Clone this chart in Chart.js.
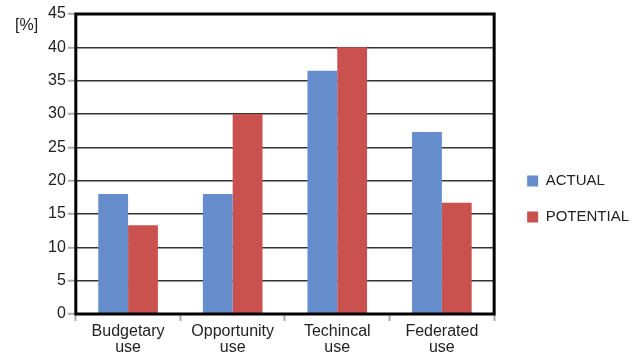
<!DOCTYPE html>
<html>
<head>
<meta charset="utf-8">
<script src="https://cdn.jsdelivr.net/npm/chart.js@4.4.0/dist/chart.umd.min.js"></script>
<style>
  html, body { margin: 0; padding: 0; background: #fff; }
  #wrap { width: 638px; height: 356px; position: relative; }
</style>
</head>
<body>
<div id="wrap"><canvas id="chart"></canvas></div>
<script>
// categories and values
const categories = [['Budgetary', 'use'], ['Opportunity', 'use'], ['Techincal', 'use'], ['Federated', 'use']];
const actual = [18, 18, 36.5, 27.3];
const potential = [13.3, 30, 40, 16.7];
const yTicks = [0, 5, 10, 15, 20, 25, 30, 35, 40, 45];

const FONT = '"Liberation Sans", Arial, sans-serif';

// thick black frame round the plot + the [%] unit label
const framePlugin = {
    id: 'frame',
    afterDraw(chart) {
        const { ctx, chartArea: a } = chart;
        ctx.save();
        ctx.strokeStyle = '#000';
        ctx.lineWidth = 3;
        ctx.strokeRect(a.left, a.top, a.right - a.left, a.bottom - a.top);
        ctx.fillStyle = '#222';
        ctx.font = '16px ' + FONT;
        ctx.textBaseline = 'middle';
        ctx.fillText('[%]', 15, 26);
        ctx.restore();
    }
};

// widen the legend box a bit and push its items to the right
const legendShift = {
    id: 'legendShift',
    beforeLayout(chart) {
        const lg = chart.legend;
        if (lg && !lg._widened) {
            const fit = lg.fit;
            lg.fit = function () { fit.call(this); this.width += 5; };
            lg._widened = true;
        }
    },
    afterLayout(chart) {
        const lg = chart.legend;
        if (lg) { lg.left += 12; lg.right += 12; }
    }
};

const ctx = document.getElementById('chart').getContext('2d');
const chart = new Chart(ctx, {
    type: 'bar',
    data: {
        labels: categories,
        datasets: [{
            label: 'ACTUAL',
            data: actual,
            backgroundColor: '#658ccb',
            borderWidth: 0
        }, {
            label: 'POTENTIAL',
            data: potential,
            backgroundColor: '#c9524f',
            borderWidth: 0
        }]
    },
    options: {
        responsive: true,
        maintainAspectRatio: false,
        animation: false,
        layout: { padding: { top: 14, right: 6, left: 46, bottom: -3 } },
        datasets: { bar: { categoryPercentage: 0.57, barPercentage: 1 } },
        plugins: {
            legend: {
                position: 'right',
                align: 'center',
                title: { display: true, text: ' ', padding: 12, font: { size: 1 } },
                labels: {
                    boxWidth: 11,
                    boxHeight: 11,
                    padding: 21,
                    color: '#222',
                    font: { family: FONT, size: 15 }
                }
            },
            tooltip: { enabled: false }
        },
        scales: {
            x: {
                grid: {
                    offset: true,
                    drawOnChartArea: false,
                    drawTicks: true,
                    tickLength: 7,
                    tickColor: '#aaa',
                    tickWidth: 2
                },
                border: { display: false },
                ticks: {
                    color: '#222',
                    padding: 3,
                    font: { family: FONT, size: 16, lineHeight: 1.0 }
                }
            },
            y: {
                min: 0,
                max: 45,
                afterBuildTicks: axis => { axis.ticks = yTicks.map(v => ({ value: v })); },
                grid: {
                    color: '#333',
                    lineWidth: 1.5,
                    tickLength: 8,
                    tickColor: '#aaa',
                    tickWidth: 2
                },
                border: { display: false },
                ticks: {
                    color: '#222',
                    padding: 2,
                    font: { family: FONT, size: 16 }
                }
            }
        }
    },
    plugins: [framePlugin, legendShift]
});
</script>
</body>
</html>
